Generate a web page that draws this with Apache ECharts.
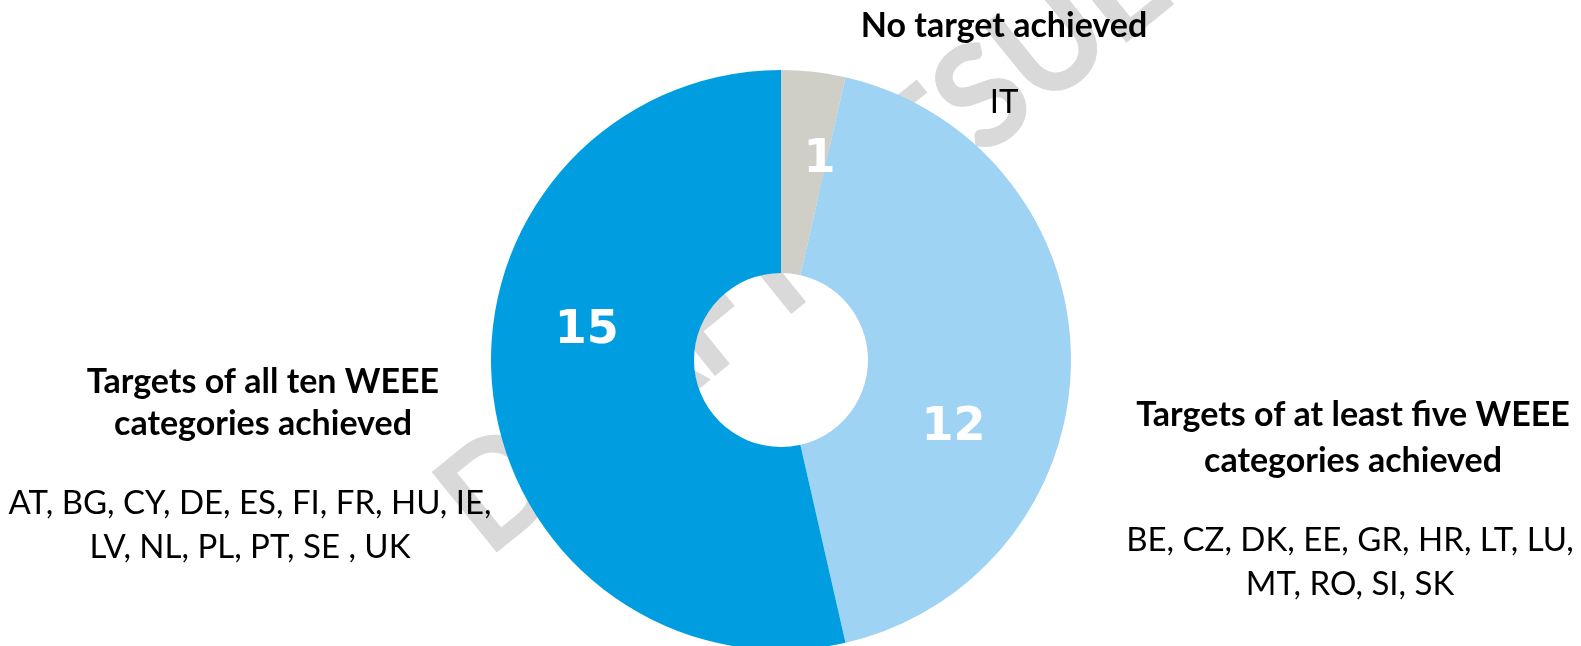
<!DOCTYPE html>
<html>
<head>
<meta charset="utf-8">
<script src="https://cdn.jsdelivr.net/npm/echarts@6/dist/echarts.min.js"></script>
<style>
html, body { margin: 0; padding: 0; background: #fff; }
#main { width: 1581px; height: 646px; }
</style>
</head>
<body>
<div id="main"></div>
<script>
// categories, counts and member states, in clockwise order from the top
var categories = ['No target achieved', 'Targets of at least five WEEE\ncategories achieved', 'Targets of all ten WEEE\ncategories achieved'];
var counts = [1, 12, 15];
var countries = ['IT', 'BE, CZ, DK, EE, GR, HR, LT, LU,\nMT, RO, SI, SK', 'AT, BG, CY, DE, ES, FI, FR, HU, IE,\nLV, NL, PL, PT, SE , UK'];
var colors = ['#CFCFC7', '#9FD3F3', '#009EE0'];
var watermark = 'DRAFT RESULTS';

// value labels were dragged by hand in the original, so nudge them
var labelNudge = [[17, -10], [-19, 68], [-4, -50]];
// text blocks: centre x and middle y of title and of country list
var blockPos = [
    { tx: 1004, title: 26, lx: 1004, list: 102, lh: 45 },
    { tx: 1353, title: 438, lx: 1350, list: 562, lh: 46 },
    { tx: 263, title: 403, lx: 250, list: 525, lh: 42 }
];

var chart = echarts.init(document.getElementById('main'));

var graphics = [{
    type: 'text',
    x: 460, y: 522,
    rotation: 39 * Math.PI / 180,
    z: 0,
    silent: true,
    style: {
        text: watermark,
        font: '136px Lato',
        fill: '#D9D9D9',
        stroke: '#D9D9D9',
        lineWidth: 6,
        lineJoin: 'round',
        align: 'left',
        verticalAlign: 'middle'
    }
}];

categories.forEach(function(name, i) {
    var p = blockPos[i];
    graphics.push({
        type: 'text', x: p.tx, y: p.title, z: 10, silent: true,
        style: {
            text: name, font: 'bold 34px Lato', fill: '#000',
            align: 'center', verticalAlign: 'middle', lineHeight: p.lh
        }
    });
    graphics.push({
        type: 'text', x: p.lx, y: p.list, z: 10, silent: true,
        style: {
            text: countries[i], font: '33px Lato', fill: '#000',
            align: 'center', verticalAlign: 'middle', lineHeight: 44
        }
    });
});

var option = {
    animation: false,
    backgroundColor: '#fff',
    graphic: graphics,
    series: [{
        type: 'pie',
        center: [781, 360],
        radius: [87, 290],
        startAngle: 90,
        clockwise: true,
        avoidLabelOverlap: false,
        silent: true,
        label: {
            show: true,
            position: 'inside',
            formatter: '{c}',
            color: '#fff',
            fontFamily: 'DejaVu Sans',
            fontWeight: 'bold',
            fontSize: 46
        },
        labelLine: { show: false },
        labelLayout: function(params) {
            var n = labelNudge[params.dataIndex];
            return { dx: n[0], dy: n[1] };
        },
        data: counts.map(function(v, i) {
            return { value: v, name: categories[i], itemStyle: { color: colors[i] } };
        })
    }]
};

chart.setOption(option);
</script>
</body>
</html>
